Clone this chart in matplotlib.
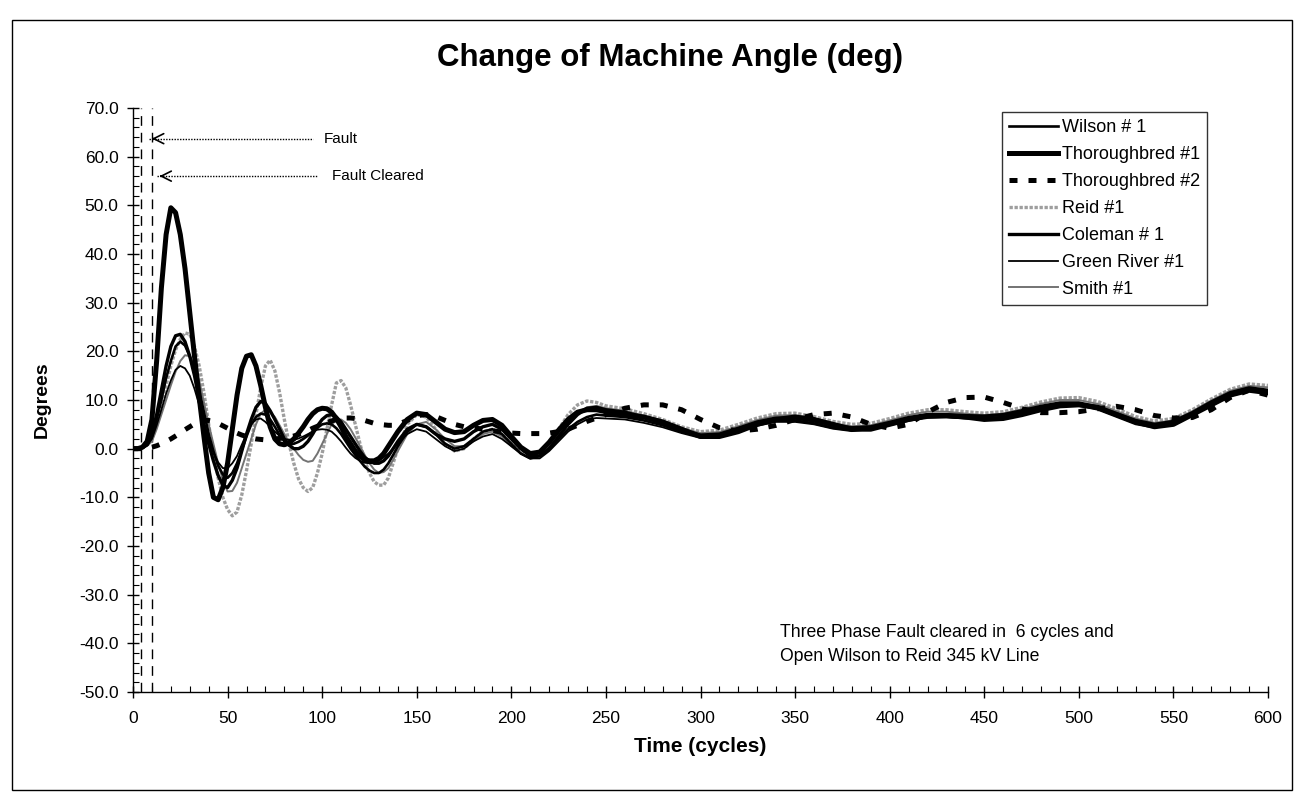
import numpy as np
import matplotlib
matplotlib.use("Agg")
import matplotlib.pyplot as plt
from matplotlib.patches import Rectangle
from matplotlib.ticker import MultipleLocator, FormatStrFormatter

plt.rcParams["font.family"] = ["Liberation Sans", "DejaVu Sans"]

# sample times (cycles): fine steps through the first swings, coarser later
t = list(np.arange(0, 140.1, 2.5)) + list(range(145, 251, 5)) + list(range(260, 601, 10))

# values, split as 0-140 / 145-250 / 260-600
wilson1 = ([0, 0, 0.2, 0.8, 2.5, 6, 10, 14.5, 18, 21,
            22, 21.2, 19, 16, 12, 7.5, 3, -0.5, -3.5, -5.3,
            -6, -5, -3, -0.3, 2.5, 5, 6.5, 7.2, 7, 6,
            4.5, 2.8, 1.5, 1, 1, 1.4, 2, 2.7, 3.5, 4.3,
            5, 5.2, 5, 4.2, 3, 1.5, 0, -1.3, -2.5, -3.7,
            -4.5, -5, -5, -4.3, -3, -1.3, 0.5]
           + [3.5, 5, 4.5, 3, 1, 0, 0.5, 2, 3.5, 4, 3, 1, -1, -2, -1.5, 0, 2, 4, 5.5, 6.5, 7, 6.8]
           + [6.5, 5.8, 4.8, 3.5, 2.5, 2.6, 3.8, 5, 5.8, 5.8, 5.2, 4.3, 3.8, 4.2, 5,
              5.9, 6.5, 6.6, 6.3, 6.2, 6.5, 7.4, 8.4, 9, 9, 8.2, 6.8, 5.3, 4.5, 5.2,
              7, 9.2, 11, 12, 11.6])

thoroughbred1 = ([0, 0, 0.3, 1.5, 6, 18, 33, 44, 49.5, 48.5,
                  44, 37, 28, 19, 10.5, 2.5, -5, -10, -10.5, -8,
                  -3, 4, 11, 16.5, 19, 19.3, 17, 13, 8.5, 4.5,
                  2, 1, 0.8, 1.2, 2, 3.2, 4.5, 6, 7.2, 8,
                  8.3, 8.2, 7.5, 6.2, 4.5, 2.5, 1, -0.5, -1.5, -2.3,
                  -2.5, -2.5, -2, -1, 0.5, 2, 3.5]
                 + [6, 7.3, 7, 5.5, 4, 3.3, 3.5, 4.8, 5.8, 6, 4.8, 2.5, 0.3, -1, -0.7, 1.3, 3.8, 6, 7.5, 8, 8, 7.6]
                 + [7, 6.5, 5.5, 4, 2.5, 2.5, 3.5, 5, 6, 6.5, 6, 5, 4, 4, 5,
                    6, 6.8, 6.8, 6.5, 6, 6.2, 7, 8, 8.8, 9, 8.5, 7, 5.5, 4.5, 5,
                    7, 9, 11, 12, 11.5])

thoroughbred2 = ([0, 0, 0, 0.1, 0.3, 0.6, 1, 1.5, 2, 2.6,
                  3.2, 3.9, 4.5, 5.1, 5.5, 5.8, 5.8, 5.6, 5.2, 4.7,
                  4.2, 3.7, 3.2, 2.8, 2.5, 2.2, 2, 1.9, 1.8, 1.9,
                  2, 2.1, 2.2, 2.4, 2.6, 2.9, 3.3, 3.7, 4.2, 4.6,
                  5, 5.4, 5.7, 6, 6.2, 6.3, 6.3, 6.2, 6, 5.8,
                  5.5, 5.2, 5, 4.9, 4.8, 4.8, 5]
                 + [5.8, 6.8, 7, 6.6, 5.8, 5, 4.5, 4.3, 4, 3.7, 3.4, 3.2, 3.1, 3.1, 3.1, 3.2, 3.5, 4, 4.8, 5.6, 6.3, 7]
                 + [8.3, 9, 9, 8, 6, 4.3, 3.6, 4, 4.8, 6, 7, 7.3, 6.5, 5, 4.2,
                    5, 7.5, 9.5, 10.5, 10.6, 9.5, 8.2, 7.4, 7.4, 7.6, 8.2, 8.7, 8, 6.8, 6.3,
                    6.4, 8, 10.5, 12, 11])

reid1 = ([0, 0, 0.2, 0.7, 2, 5, 9, 13, 17, 20.3,
          22.5, 23.8, 23.5, 21, 17, 11.5, 5, -0.8, -6, -10,
          -12.5, -13.8, -13, -9.5, -4.5, 1, 7, 12.5, 17, 18.2,
          16, 11.5, 6, 1, -3, -6.2, -8, -8.8, -8, -5,
          -1, 4, 9, 13.5, 14, 12.5, 9, 5, 1, -2.5,
          -5, -6.8, -7.5, -7.5, -6, -3, 0]
         + [5, 7, 6.5, 4, 1, -0.5, 0, 2, 3.5, 4, 3, 1, -0.5, -1.5, -1, 1, 4, 7, 9, 9.8, 9.5, 8.8]
         + [8.2, 7.2, 6, 4.5, 3.5, 3.8, 5, 6.3, 7.2, 7.3, 6.6, 5.6, 5, 5.2, 6.2,
            7.3, 8, 8, 7.6, 7.3, 7.6, 8.5, 9.6, 10.4, 10.5, 9.7, 8.2, 6.6, 5.7, 6.2,
            8, 10.2, 12.2, 13.3, 13])

coleman1 = ([0, 0, 0.2, 0.8, 3, 7, 12, 17, 21, 23.2,
             23.5, 22, 19, 15, 10, 5, 1, -2.5, -5.5, -7.5,
             -8, -6.5, -4, -0.5, 3, 6, 8.5, 9.7, 9.3, 7.8,
             6, 4, 2, 0.7, 0, 0, 0.5, 1.5, 3, 4.7,
             6, 6.8, 7, 6.5, 5.5, 4, 2.5, 1, -0.5, -1.8,
             -2.5, -3, -3, -2.5, -1.5, 0, 1.5]
            + [4, 5, 4.5, 3, 2, 1.5, 2, 3.5, 4.5, 5, 4, 2, 0, -1.5, -1.5, 0, 2.5, 5, 7, 8.3, 8.5, 8]
            + [7.5, 6.5, 5.2, 3.8, 2.8, 3, 4.2, 5.5, 6.3, 6.3, 5.7, 4.8, 4.3, 4.5, 5.4,
               6.4, 7, 7, 6.8, 6.7, 7, 7.8, 8.7, 9.4, 9.4, 8.6, 7.2, 5.8, 5, 5.6,
               7.4, 9.6, 11.5, 12.5, 12])

green_river1 = ([0, 0, 0.2, 0.7, 2, 4.8, 8, 11.3, 14, 16.2,
                 17, 16.5, 15, 12.3, 9, 5.3, 2, -0.8, -2.8, -4,
                 -4, -3, -1.5, 0.8, 3, 5, 6, 6.2, 5.5, 4.5,
                 3.5, 2.6, 2, 1.8, 1.8, 2.1, 2.5, 3, 3.5, 3.9,
                 4, 3.9, 3.5, 2.6, 1.5, 0.2, -1, -1.9, -2.5, -2.9,
                 -3, -2.9, -2.5, -1.8, -1, 0, 1]
                + [3, 4, 3.5, 2, 0.5, -0.5, 0, 1.5, 2.5, 3, 2, 0.5, -1, -2, -2, -0.5, 1.5, 3.5, 5, 6, 6.3, 6.2]
                + [6, 5.3, 4.4, 3.2, 2.2, 2.4, 3.5, 4.7, 5.5, 5.5, 5, 4.1, 3.6, 4, 4.8,
                   5.7, 6.3, 6.4, 6.2, 6, 6.4, 7.2, 8.1, 8.7, 8.8, 8, 6.5, 5, 4.3, 5,
                   6.8, 9, 10.8, 11.8, 11.4])

smith1 = ([0, 0, 0.2, 0.6, 1.5, 4, 7, 10, 13, 15.8,
           18, 19.2, 19, 17, 14, 9.5, 5, 1, -3, -6.5,
           -8.8, -8.7, -7, -4, -1, 2, 5, 7.2, 8, 7.5,
           6.5, 4.8, 3, 1.3, 0, -1.3, -2.3, -2.7, -2.5, -1,
           1, 3, 5, 5.8, 6, 5.3, 4, 2.3, 0.5, -1.3,
           -3, -4.3, -5, -4.8, -4, -2.3, -0.5]
          + [3, 5, 5.5, 4, 2, 0.5, 0.5, 1.5, 3, 3.5, 2.5, 0.5, -1, -2, -1.5, 0.5, 3, 5.5, 7.5, 8.5, 8.8, 8.3]
          + [7.8, 6.8, 5.6, 4.2, 3.2, 3.4, 4.6, 5.9, 6.8, 6.9, 6.2, 5.2, 4.6, 4.8, 5.8,
             6.9, 7.6, 7.6, 7.2, 6.9, 7.2, 8.1, 9.2, 10, 10, 9.2, 7.7, 6.2, 5.3, 5.8,
             7.7, 9.9, 11.9, 12.9, 12.6])

fault_times = [4, 10]

W, H = 1298, 797
fig = plt.figure(figsize=(W / 100, H / 100), dpi=100)

# outer chart border
fig.add_artist(Rectangle((12 / W, 1 - 790 / H), (1292 - 12) / W, (790 - 20) / H,
                         transform=fig.transFigure, fill=False, lw=1.0, ec="black"))

ax = fig.add_axes([133 / W, 1 - 692 / H, (1268 - 133) / W, (692 - 108) / H])

ax.plot(t, reid1, color="0.62", lw=2.4, ls=(0, (1, 0.5)), label="Reid #1", zorder=3)
ax.plot(t, smith1, color="0.45", lw=1.4, label="Smith #1", zorder=3)
ax.plot(t, green_river1, color="black", lw=1.3, label="Green River #1", zorder=4)
ax.plot(t, wilson1, color="black", lw=1.9, label="Wilson # 1", zorder=4)
ax.plot(t, coleman1, color="black", lw=2.4, label="Coleman # 1", zorder=4)
ax.plot(t, thoroughbred2, color="black", lw=3.6, ls=(0, (1.6, 2.2)), label="Thoroughbred #2", zorder=5)
ax.plot(t, thoroughbred1, color="black", lw=3.6, label="Thoroughbred #1", zorder=6)

for ft in fault_times:
    ax.axvline(ft, color="black", lw=1.0, ls=(0, (7, 5)), zorder=2)

# fault annotations
ax.plot([8.5, 95], [63.7, 63.7], color="black", lw=1.0, ls=(0, (1, 1)))
ax.annotate("", xy=(8.5, 63.7), xytext=(13, 63.7),
            arrowprops=dict(arrowstyle="->", lw=1.2, color="black", mutation_scale=18))
ax.text(101, 63.7, "Fault", fontsize=11, va="center", ha="left")
ax.plot([12.5, 98], [56, 56], color="black", lw=1.0, ls=(0, (1, 1)))
ax.annotate("", xy=(12.5, 56), xytext=(17, 56),
            arrowprops=dict(arrowstyle="->", lw=1.2, color="black", mutation_scale=18))
ax.text(105, 56, "Fault Cleared", fontsize=11, va="center", ha="left")

ax.text(342, -37.7, "Three Phase Fault cleared in  6 cycles and", fontsize=12.7, va="center", ha="left")
ax.text(342, -42.7, "Open Wilson to Reid 345 kV Line", fontsize=12.7, va="center", ha="left")

ax.set_xlim(0, 600)
ax.set_ylim(-50, 70)
ax.xaxis.set_major_locator(MultipleLocator(50))
ax.xaxis.set_minor_locator(MultipleLocator(10))
ax.yaxis.set_major_locator(MultipleLocator(10))
ax.yaxis.set_minor_locator(MultipleLocator(2))
ax.yaxis.set_major_formatter(FormatStrFormatter("%.1f"))
ax.tick_params(which="major", direction="inout", length=9, width=1, labelsize=12.5)
ax.tick_params(which="minor", direction="in", length=4, width=0.8)
ax.tick_params(axis="x", pad=9)
ax.tick_params(axis="y", pad=6)
for side in ["top", "right"]:
    ax.spines[side].set_visible(False)
for side in ["left", "bottom"]:
    ax.spines[side].set_linewidth(1.0)

fig.text(670 / W, 1 - 58 / H, "Change of Machine Angle (deg)", fontsize=22.5, fontweight="bold",
         ha="center", va="center")
fig.text(700 / W, 1 - 747 / H, "Time (cycles)", fontsize=15, fontweight="bold",
         ha="center", va="center")
fig.text(42 / W, 1 - 400 / H, "Degrees", fontsize=14, fontweight="bold",
         ha="center", va="center", rotation=90)

handles, labels = ax.get_legend_handles_labels()
order = ["Wilson # 1", "Thoroughbred #1", "Thoroughbred #2", "Reid #1",
         "Coleman # 1", "Green River #1", "Smith #1"]
hmap = dict(zip(labels, handles))
leg = ax.legend([hmap[k] for k in order], order, loc="upper left",
                bbox_to_anchor=(1002 / W, 1 - 112 / H), bbox_transform=fig.transFigure,
                fontsize=13, frameon=True, fancybox=False, edgecolor="black",
                handlelength=2.7, handletextpad=0.2, labelspacing=0.55, borderpad=0.4,
                borderaxespad=0)
leg.get_frame().set_linewidth(1.0)

fig.savefig("out.png", dpi=100)
